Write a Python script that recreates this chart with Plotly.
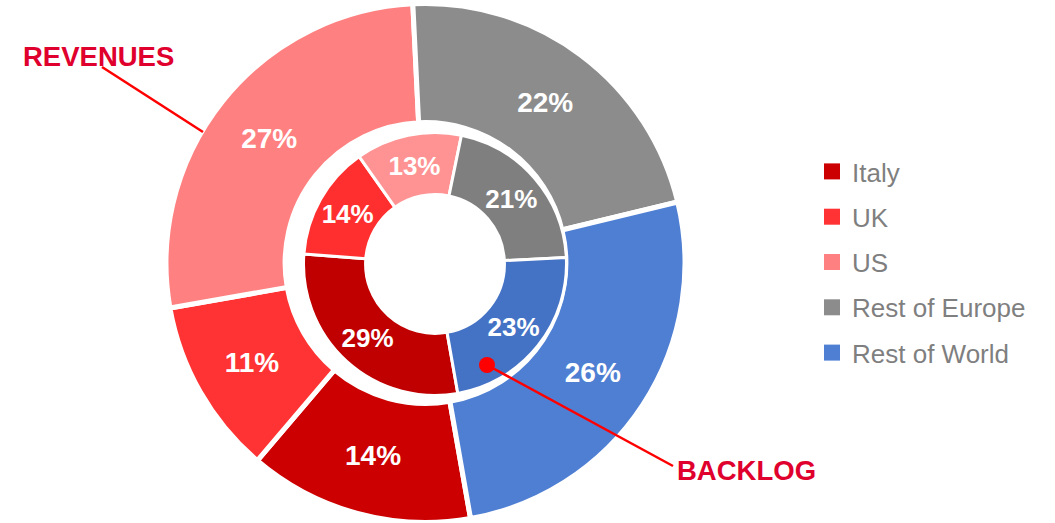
import plotly.graph_objects as go

# Regions and their shares (%)
regions = ["Italy", "UK", "US", "Rest of Europe", "Rest of World"]
revenues = [14, 11, 27, 22, 26]   # outer ring
backlog = [29, 14, 13, 21, 23]    # inner ring

outer_colors = ["#CC0000", "#FF3333", "#FF8080", "#8C8C8C", "#4F7FD3"]
inner_colors = ["#C00000", "#FF2F2F", "#FF9393", "#7F7F7F", "#4472C4"]

W, H = 1055, 523
FONT = "Arial, Liberation Sans, sans-serif"
ACCENT = "#E0002D"


def px_x(v):
    return v / W


def px_y(v):
    return (H - v) / H


fig = go.Figure()

# Outer ring: revenues
fig.add_trace(go.Pie(
    labels=regions, values=revenues, sort=False,
    direction="clockwise", rotation=170, hole=0.541,
    domain=dict(x=[px_x(166), px_x(685)], y=[px_y(522.5), px_y(3.5)]),
    marker=dict(colors=outer_colors, line=dict(color="white", width=5)),
    texttemplate="%{value}%", textposition="inside",
    insidetextorientation="horizontal",
    textfont=dict(family=FONT, size=28, color="white", weight="bold"),
    showlegend=False, hoverinfo="label+value",
))

# Inner ring: backlog
fig.add_trace(go.Pie(
    labels=regions, values=backlog, sort=False,
    direction="clockwise", rotation=170, hole=0.528,
    domain=dict(x=[px_x(303.5), px_x(566.5)], y=[px_y(395.5), px_y(132.5)]),
    marker=dict(colors=inner_colors, line=dict(color="white", width=3)),
    texttemplate="%{value}%", textposition="inside",
    insidetextorientation="horizontal",
    textfont=dict(family=FONT, size=26, color="white", weight="bold"),
    showlegend=False, hoverinfo="label+value",
))

# Legend entries
for name, col in zip(regions, outer_colors):
    fig.add_trace(go.Scatter(
        x=[None], y=[None], mode="markers", name=name, legendgroup=name,
        marker=dict(symbol="square", size=16, color=col, line=dict(width=0)),
    ))

# Callout labels
fig.add_annotation(x=px_x(21), y=px_y(56), xref="paper", yref="paper",
                   text="<b>REVENUES</b>", showarrow=False,
                   xanchor="left", yanchor="middle",
                   font=dict(family=FONT, size=27.5, color=ACCENT))
fig.add_annotation(x=px_x(675), y=px_y(470), xref="paper", yref="paper",
                   text="<b>BACKLOG</b>", showarrow=False,
                   xanchor="left", yanchor="middle",
                   font=dict(family=FONT, size=27.5, color=ACCENT))

fig.add_shape(type="line", xref="paper", yref="paper",
              x0=px_x(102), y0=px_y(67), x1=px_x(203), y1=px_y(132),
              line=dict(color="#FF0000", width=2.5))
fig.add_shape(type="line", xref="paper", yref="paper",
              x0=px_x(487), y0=px_y(365), x1=px_x(673), y1=px_y(466),
              line=dict(color="#FF0000", width=2.5))
fig.add_shape(type="circle", xref="paper", yref="paper",
              x0=px_x(479), y0=px_y(373), x1=px_x(495), y1=px_y(357),
              fillcolor="#FF0000", line=dict(width=0))

fig.update_layout(
    width=W, height=H,
    margin=dict(l=0, r=0, t=0, b=0),
    paper_bgcolor="white", plot_bgcolor="white",
    xaxis=dict(visible=False), yaxis=dict(visible=False),
    showlegend=True,
    legend=dict(
        x=px_x(812), y=px_y(148), xanchor="left", yanchor="top",
        traceorder="grouped", tracegroupgap=8.5,
        font=dict(family=FONT, size=26, color="#7F7F7F"),
        bgcolor="rgba(0,0,0,0)",
    ),
)

fig.write_html("out.html")
